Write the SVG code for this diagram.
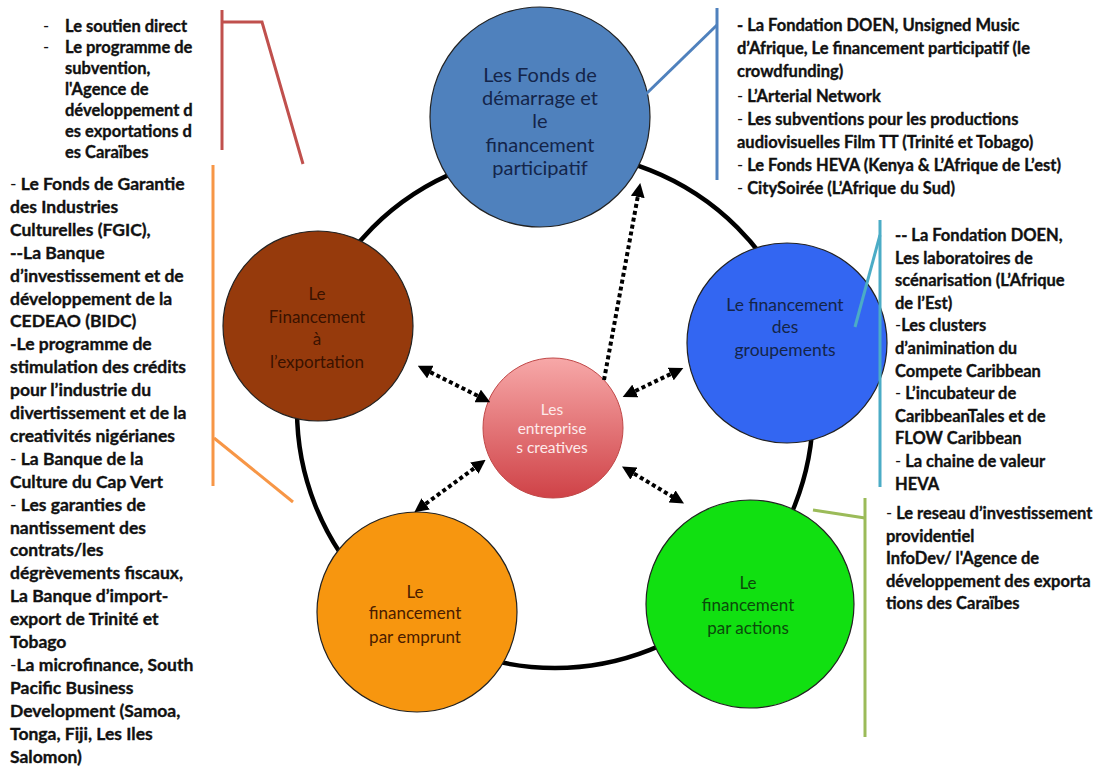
<svg xmlns="http://www.w3.org/2000/svg" width="1120" height="769" viewBox="0 0 1120 769">
<style>
.t{font-family:Lato,"Liberation Sans",sans-serif;font-weight:bold;font-size:16.5px;fill:#111;stroke:#111;stroke-width:0.35px}
.n{font-weight:normal;stroke-width:0}
.big{font-size:17.5px}
.lbl{font-family:Lato,"Liberation Sans",sans-serif;text-anchor:middle}
.dot{stroke:#000;stroke-width:4;stroke-dasharray:4 3;fill:none}
.cl{fill:none;stroke-width:3}
.node{stroke:#222;stroke-width:1.2}
</style>
<defs>
<marker id="ah" viewBox="0 0 10 10" refX="5" refY="5" markerWidth="14" markerHeight="14" markerUnits="userSpaceOnUse" orient="auto-start-reverse">
<path d="M0,0 L10,5 L0,10 z" fill="#000"/>
</marker>
<linearGradient id="rg" x1="0" y1="0" x2="0" y2="1">
<stop offset="0" stop-color="#F7A8A8"/>
<stop offset="1" stop-color="#CF4247"/>
</linearGradient>
</defs>
<rect width="1120" height="769" fill="#fff"/>
<circle cx="555" cy="410" r="258" fill="none" stroke="#000" stroke-width="4.5"/>

<g id="n-top">
<circle class="node" cx="540" cy="117" r="110" fill="#4F81BD"/>
<text class="lbl" fill="#14254A" font-size="20"><tspan x="540" y="82">Les Fonds de</tspan><tspan x="540" y="105">démarrage et</tspan><tspan x="540" y="128">le</tspan><tspan x="540" y="152">financement</tspan><tspan x="540" y="175">participatif</tspan></text>
</g>
<g id="n-export">
<circle class="node" cx="318" cy="326" r="95" fill="#963A0C"/>
<text class="lbl" fill="#3A1200" font-size="17"><tspan x="317" y="300">Le</tspan><tspan x="317" y="323">Financement</tspan><tspan x="317" y="345">à</tspan><tspan x="317" y="368">l’exportation</tspan></text>
</g>
<g id="n-group">
<circle class="node" cx="787" cy="343" r="100" fill="#3366F2"/>
<text class="lbl" fill="#14254A" font-size="17.5"><tspan x="785" y="311">Le financement</tspan><tspan x="785" y="333">des</tspan><tspan x="785" y="356">groupements</tspan></text>
</g>
<g id="n-actions">
<circle class="node" cx="750" cy="604" r="104" fill="#11E011"/>
<text class="lbl" fill="#0B4A0B" font-size="17"><tspan x="748" y="589">Le</tspan><tspan x="748" y="611">financement</tspan><tspan x="748" y="634">par actions</tspan></text>
</g>
<g id="n-emprunt">
<circle class="node" cx="417" cy="612" r="100" fill="#F7960F"/>
<text class="lbl" fill="#4A1C00" font-size="17"><tspan x="415" y="598">Le</tspan><tspan x="415" y="619">financement</tspan><tspan x="415" y="643">par emprunt</tspan></text>
</g>
<g id="n-center">
<circle cx="553" cy="428" r="70" fill="url(#rg)" stroke="#C04848" stroke-width="1"/>
<text class="lbl" fill="#FDEAEA" font-size="15.5"><tspan x="552" y="415">Les</tspan><tspan x="552" y="434">entreprise</tspan><tspan x="552" y="453">s creatives</tspan></text>
</g>

<g id="connectors">
<line class="dot" x1="604" y1="380" x2="639" y2="190" marker-end="url(#ah)"/>
<line class="dot" x1="424" y1="369" x2="484" y2="399" marker-start="url(#ah)" marker-end="url(#ah)"/>
<line class="dot" x1="629" y1="394" x2="677" y2="371" marker-start="url(#ah)" marker-end="url(#ah)"/>
<line class="dot" x1="420" y1="508" x2="480" y2="464" marker-start="url(#ah)" marker-end="url(#ah)"/>
<line class="dot" x1="628" y1="470" x2="678" y2="500" marker-start="url(#ah)" marker-end="url(#ah)"/>
<polyline class="cl" stroke="#C0504D" points="222,10 222,150"/>
<polyline class="cl" stroke="#C0504D" points="222,22 262,22 303,164"/>
<polyline class="cl" stroke="#F79646" points="213,165 213,486"/>
<polyline class="cl" stroke="#F79646" points="214,438 293,502"/>
<polyline class="cl" stroke="#4F81BD" points="717,8 717,180"/>
<polyline class="cl" stroke="#4F81BD" points="717,25 646,94"/>
<polyline class="cl" stroke="#4BACC6" points="880,220 880,487"/>
<polyline class="cl" stroke="#4BACC6" points="880,235 855,327"/>
<polyline class="cl" stroke="#9BBB59" points="865,498 865,737"/>
<polyline class="cl" stroke="#9BBB59" points="865,518 813,510"/>
</g>

<g id="txt-topleft">
<text x="43" y="32" class="t n">-</text>
<text x="43" y="53" class="t n">-</text>
<text class="t"><tspan x="65" y="32">Le soutien direct</tspan><tspan x="65" y="53">Le programme de</tspan><tspan x="65" y="74">subvention,</tspan><tspan x="65" y="95">l'Agence de</tspan><tspan x="65" y="116">développement d</tspan><tspan x="65" y="137">es exportations d</tspan><tspan x="65" y="158">es Caraïbes</tspan></text>
</g>

<g id="txt-left">
<text class="t big">
<tspan x="10" y="190"><tspan class="n">-</tspan> Le Fonds de Garantie</tspan>
<tspan x="10" y="212.9">des Industries</tspan>
<tspan x="10" y="235.8">Culturelles (FGIC),</tspan>
<tspan x="10" y="258.7">--La Banque</tspan>
<tspan x="10" y="281.6">d’investissement et de</tspan>
<tspan x="10" y="304.5">développement de la</tspan>
<tspan x="10" y="327.4">CEDEAO (BIDC)</tspan>
<tspan x="10" y="350.3">-Le programme de</tspan>
<tspan x="10" y="373.2">stimulation des crédits</tspan>
<tspan x="10" y="396.1">pour l’industrie du</tspan>
<tspan x="10" y="419">divertissement et de la</tspan>
<tspan x="10" y="441.9">creativités nigérianes</tspan>
<tspan x="10" y="464.8"><tspan class="n">-</tspan> La Banque de la</tspan>
<tspan x="10" y="487.7">Culture du Cap Vert</tspan>
<tspan x="10" y="510.6"><tspan class="n">-</tspan> Les garanties de</tspan>
<tspan x="10" y="533.5">nantissement des</tspan>
<tspan x="10" y="556.4">contrats/les</tspan>
<tspan x="10" y="579.3">dégrèvements fiscaux,</tspan>
<tspan x="10" y="602.2">La Banque d’import-</tspan>
<tspan x="10" y="625.1">export de Trinité et</tspan>
<tspan x="10" y="648">Tobago</tspan>
<tspan x="10" y="670.9"><tspan class="n">-</tspan>La microfinance, South</tspan>
<tspan x="10" y="693.8">Pacific Business</tspan>
<tspan x="10" y="716.7">Development (Samoa,</tspan>
<tspan x="10" y="739.6">Tonga, Fiji, Les Iles</tspan>
<tspan x="10" y="762.5">Salomon)</tspan>
</text>
</g>

<g id="txt-topright">
<text class="t">
<tspan x="737" y="31">- La Fondation DOEN, Unsigned Music</tspan>
<tspan x="737" y="54">d’Afrique, Le financement participatif (le</tspan>
<tspan x="737" y="77">crowdfunding)</tspan>
<tspan x="737" y="102"><tspan class="n">-</tspan> L’Arterial Network</tspan>
<tspan x="737" y="125"><tspan class="n">-</tspan> Les subventions pour les productions</tspan>
<tspan x="737" y="148">audiovisuelles Film TT (Trinité et Tobago)</tspan>
<tspan x="737" y="171"><tspan class="n">-</tspan> Le Fonds HEVA (Kenya &amp; L’Afrique de L’est)</tspan>
<tspan x="737" y="194"><tspan class="n">-</tspan> CitySoirée (L’Afrique du Sud)</tspan>
</text>
</g>

<g id="txt-right">
<text class="t">
<tspan x="895" y="241">-- La Fondation DOEN,</tspan>
<tspan x="895" y="263.6">Les laboratoires de</tspan>
<tspan x="895" y="286.2">scénarisation (L’Afrique</tspan>
<tspan x="895" y="308.8">de l’Est)</tspan>
<tspan x="895" y="331.4"><tspan class="n">-</tspan>Les clusters</tspan>
<tspan x="895" y="354">d’animination du</tspan>
<tspan x="895" y="376.6">Compete Caribbean</tspan>
<tspan x="895" y="399.2"><tspan class="n">-</tspan> L’incubateur de</tspan>
<tspan x="895" y="421.8">CaribbeanTales et de</tspan>
<tspan x="895" y="444.4">FLOW Caribbean</tspan>
<tspan x="895" y="467"><tspan class="n">-</tspan> La chaine de valeur</tspan>
<tspan x="895" y="489.6">HEVA</tspan>
</text>
</g>

<g id="txt-bottomright">
<text class="t">
<tspan x="886" y="519"><tspan class="n">-</tspan> Le reseau d’investissement</tspan>
<tspan x="886" y="541.5">providentiel</tspan>
<tspan x="886" y="564">InfoDev/ l'Agence de</tspan>
<tspan x="886" y="586.5">développement des exporta</tspan>
<tspan x="886" y="609">tions des Caraïbes</tspan>
</text>
</g>
</svg>
